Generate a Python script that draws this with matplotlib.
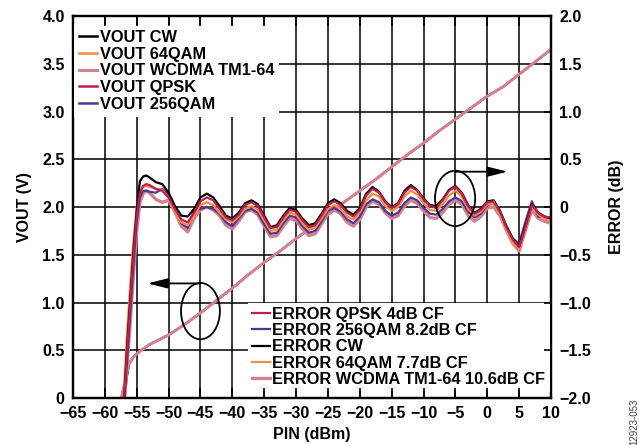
import numpy as np
import matplotlib as mpl
mpl.use('Agg')
import matplotlib.pyplot as plt
from matplotlib.patches import Ellipse

plt.rcParams['font.family'] = ['Liberation Sans', 'DejaVu Sans']
plt.rcParams['font.weight'] = 'bold'
plt.rcParams['axes.unicode_minus'] = True

# ---- data ----
pin_ticks = [-65, -60, -55, -50, -45, -40, -35, -30, -25, -20, -15, -10, -5, 0, 5, 10]
vout_ticks = [0, 0.5, 1.0, 1.5, 2.0, 2.5, 3.0, 3.5, 4.0]
vout_ticklabels = ['0', '0.5', '1.0', '1.5', '2.0', '2.5', '3.0', '3.5', '4.0']
err_ticks = [-2.0, -1.5, -1.0, -0.5, 0, 0.5, 1.0, 1.5, 2.0]
err_ticklabels = ['\u22122.0', '\u22121.5', '\u22121.0', '\u22120.5', '0', '0.5', '1.0', '1.5', '2.0']

# VOUT transfer curve (all modulations overlap)
vout_x = [-57.4, -57.0, -56.6, -56.2, -55.5, -54.5, -53.0, -51.5, -50.0, -47.5, -45.0,
          -42.5, -40.0, -37.5, -35.0, -32.5, -30.0, -27.5, -25.0, -22.5, -20.0, -17.5,
          -15.0, -12.5, -10.0, -7.5, -5.0, -2.5, 0.0, 2.5, 5.0, 7.5, 10.0]
vout_mod = [0.0, 0.12, 0.25, 0.36, 0.43, 0.49, 0.56, 0.61, 0.66, 0.77, 0.89,
            1.02, 1.15, 1.29, 1.42, 1.54, 1.67, 1.79, 1.92, 2.05, 2.17, 2.29,
            2.42, 2.55, 2.67, 2.80, 2.92, 3.04, 3.16, 3.26, 3.39, 3.52, 3.65]
vout_cw_x = [-56.9, -56.6, -56.2, -55.5, -54.5]
vout_cw = [0.0, 0.2, 0.36, 0.43, 0.49]

# error curves, dB
err_x = [-57.0, -56.5, -56.0, -55.5, -55.0, -54.5, -54.0, -53.5] + list(range(-53, 11))
err_cw = [-2.05, -1.45, -0.95, -0.45, -0.03, 0.27, 0.32, 0.33,
          0.31, 0.26, 0.24, 0.15, 0.01, -0.09, -0.10, -0.02, 0.10, 0.14,
          0.10, 0.01, -0.09, -0.12, -0.06, 0.04, 0.07, 0.03, -0.09, -0.21,
          -0.19, -0.09, -0.01, -0.03, -0.12, -0.19, -0.17, -0.07, 0.04, 0.08,
          0.04, -0.04, -0.08, -0.01, 0.14, 0.21, 0.16, 0.06, 0.00, 0.04,
          0.17, 0.23, 0.18, 0.09, 0.02, 0.01, 0.08, 0.18, 0.22, 0.15,
          0.02, -0.06, -0.02, 0.06, 0.07, -0.04, -0.20, -0.33, -0.41, -0.20,
          0.03, -0.06, -0.10, -0.12]
err_qpsk = [-2.05, -1.5, -1.0, -0.5, -0.1, 0.15, 0.22, 0.24,
            0.23, 0.19, 0.17, 0.10, -0.02, -0.13, -0.16, -0.06, 0.06, 0.10,
            0.07, -0.02, -0.11, -0.14, -0.08, 0.02, 0.05, 0.01, -0.11, -0.22,
            -0.21, -0.11, -0.03, -0.05, -0.14, -0.21, -0.19, -0.09, 0.02, 0.06,
            0.02, -0.06, -0.10, -0.03, 0.12, 0.19, 0.15, 0.05, -0.01, 0.03,
            0.15, 0.21, 0.17, 0.08, 0.01, -0.01, 0.07, 0.17, 0.21, 0.14,
            0.01, -0.07, -0.03, 0.05, 0.06, -0.05, -0.21, -0.34, -0.42, -0.21,
            0.02, -0.06, -0.10, -0.11]
err_64qam = [-1.9, -1.3, -0.8, -0.35, 0.0, 0.16, 0.21, 0.22,
             0.21, 0.19, 0.18, 0.10, -0.04, -0.16, -0.19, -0.09, 0.02, 0.05,
             0.02, -0.06, -0.13, -0.16, -0.10, -0.02, 0.01, -0.03, -0.14, -0.25,
             -0.24, -0.14, -0.06, -0.08, -0.17, -0.24, -0.22, -0.12, -0.02, 0.02,
             -0.02, -0.10, -0.13, -0.06, 0.07, 0.14, 0.11, 0.01, -0.04, 0.00,
             0.11, 0.17, 0.13, 0.04, -0.03, -0.04, 0.03, 0.12, 0.17, 0.11,
             -0.02, -0.09, -0.05, 0.03, 0.04, -0.07, -0.23, -0.37, -0.44, -0.23,
             0.01, -0.08, -0.12, -0.14]
err_256qam = [-2.05, -1.6, -1.1, -0.6, -0.15, 0.10, 0.17, 0.17,
              0.16, 0.15, 0.19, 0.13, 0.00, -0.17, -0.22, -0.04, -0.02, 0.00,
              -0.02, -0.07, -0.16, -0.20, -0.12, -0.04, -0.02, -0.06, -0.18, -0.28,
              -0.27, -0.17, -0.09, -0.11, -0.20, -0.27, -0.25, -0.15, -0.04, -0.01,
              -0.05, -0.13, -0.17, -0.10, 0.03, 0.08, 0.05, -0.04, -0.09, -0.06,
              0.04, 0.10, 0.07, -0.01, -0.07, -0.08, -0.02, 0.06, 0.10, 0.06,
              -0.05, -0.11, -0.07, 0.02, 0.04, -0.06, -0.20, -0.33, -0.38, -0.15,
              0.06, -0.10, -0.10, -0.14]
err_wcdma = [-2.1, -1.65, -1.2, -0.7, -0.25, 0.05, 0.14, 0.17,
             0.15, 0.08, 0.05, 0.07, -0.05, -0.20, -0.26, -0.12, -0.03, 0.00,
             -0.03, -0.09, -0.19, -0.23, -0.15, -0.05, -0.03, -0.08, -0.20, -0.31,
             -0.30, -0.20, -0.12, -0.14, -0.23, -0.30, -0.28, -0.18, -0.07, -0.03,
             -0.07, -0.16, -0.20, -0.13, 0.00, 0.06, 0.03, -0.06, -0.12, -0.09,
             0.01, 0.07, 0.04, -0.04, -0.11, -0.12, -0.06, 0.03, 0.07, 0.03,
             -0.09, -0.15, -0.10, -0.01, 0.00, -0.09, -0.24, -0.38, -0.46, -0.24,
             -0.03, -0.12, -0.15, -0.17]

c_black = '#000000'
c_orange = '#F58B3C'
c_pink = '#D4818F'
c_red = '#BE1E4E'
c_blue = '#4A3897'

fig = plt.figure(figsize=(6.39, 4.45), dpi=100)
ax = fig.add_axes([0.1142, 0.1056, 0.7481, 0.8584])
ax2 = ax.twinx()

# left axis: VOUT
ax.plot(vout_x, vout_mod, color=c_blue, lw=1.6)
ax.plot(vout_x, vout_mod, color=c_red, lw=1.6)
ax.plot(vout_cw_x, vout_cw, color=c_black, lw=1.6)
ax.plot(vout_x, vout_mod, color=c_orange, lw=1.6)
ax.plot(vout_x, vout_mod, color=c_pink, lw=2.0)

ax.set_xlim(-65, 10)
ax.set_ylim(0, 4.0)
ax.set_xticks(pin_ticks)
ax.set_xticklabels([str(t).replace('-', '\u2212') for t in pin_ticks])
ax.set_yticks(vout_ticks)
ax.set_yticklabels(vout_ticklabels)
ax.grid(True, color='black', lw=1.1)
ax.tick_params(axis='both', direction='in', length=0, labelsize=11.5, pad=6)
ax.set_xlabel('PIN (dBm)', fontsize=11.5, fontweight='bold', labelpad=4)
ax.set_ylabel('VOUT (V)', fontsize=11.5, fontweight='bold', labelpad=7)

ax.add_patch(Ellipse((-45, 0.91), 6.1, 0.59, fill=False, edgecolor='black', lw=1.3, zorder=4))
ax.annotate('', xy=(-53.3, 1.20), xytext=(-45, 1.20),
            arrowprops=dict(arrowstyle='-|>,head_length=1.2,head_width=0.3',
                            color='black', lw=1.3, mutation_scale=10, shrinkA=0, shrinkB=0))

# right axis: ERROR
l_wc, = ax2.plot(err_x, err_wcdma, color=c_pink, lw=2.4)
l_256, = ax2.plot(err_x, err_256qam, color=c_blue, lw=1.6)
l_64, = ax2.plot(err_x, err_64qam, color=c_orange, lw=1.6)
l_cw, = ax2.plot(err_x, err_cw, color=c_black, lw=1.6)
l_qp, = ax2.plot(err_x, err_qpsk, color=c_red, lw=1.6)

ax2.set_ylim(-2.0, 2.0)
ax2.set_yticks(err_ticks)
ax2.set_yticklabels(err_ticklabels)
ax2.set_ylabel('ERROR (dB)', fontsize=11.5, fontweight='bold', labelpad=13)
ax2.xaxis.set_visible(True)
ax2.tick_params(axis='x', which='both', direction='in', length=7, width=1.2,
                top=True, bottom=True, labelbottom=False, labeltop=False)
ax2.tick_params(axis='y', direction='in', length=5, width=1.2, labelsize=11.5, pad=6)
ax2.xaxis.set_zorder(6)
ax2.yaxis.set_zorder(6)
for sp in ax2.spines.values():
    sp.set_linewidth(1.6)
for sp in ax.spines.values():
    sp.set_linewidth(1.6)

ax2.add_patch(Ellipse((-5.05, 0.09), 6.3, 0.58, fill=False, edgecolor='black', lw=1.3, zorder=4))
ax2.annotate('', xy=(3.2, 0.37), xytext=(-5.05, 0.37),
             arrowprops=dict(arrowstyle='-|>,head_length=1.2,head_width=0.3',
                             color='black', lw=1.3, mutation_scale=10, shrinkA=0, shrinkB=0))

# legends
vh = [plt.Line2D([], [], color=c_black, lw=1.8),
      plt.Line2D([], [], color=c_orange, lw=1.8),
      plt.Line2D([], [], color=c_pink, lw=2.2),
      plt.Line2D([], [], color=c_red, lw=1.8),
      plt.Line2D([], [], color=c_blue, lw=1.8)]
leg1 = ax2.legend(vh, ['VOUT CW', 'VOUT 64QAM', 'VOUT WCDMA TM1-64', 'VOUT QPSK', 'VOUT 256QAM'],
                  loc='upper left', bbox_to_anchor=(0.003, 0.976), fontsize=11.8,
                  frameon=True, facecolor='white', edgecolor='none', framealpha=1,
                  fancybox=False, borderpad=0.3, borderaxespad=0, labelspacing=0.1,
                  handlelength=1.1, handletextpad=0.15)
ax2.add_artist(leg1)
ax2.legend([l_qp, l_256, l_cw, l_64, l_wc],
           ['ERROR QPSK 4dB CF', 'ERROR 256QAM 8.2dB CF', 'ERROR CW',
            'ERROR 64QAM 7.7dB CF', 'ERROR WCDMA TM1-64 10.6dB CF'],
           loc='lower right', bbox_to_anchor=(0.997, 0.018), fontsize=11.8,
           frameon=True, facecolor='white', edgecolor='none', framealpha=1,
           fancybox=False, borderpad=0.25, borderaxespad=0, labelspacing=0.08,
           handlelength=1.1, handletextpad=0.15)

fig.text(0.993, 0.0, '12923-053', rotation=90, ha='center', va='bottom',
         fontsize=7, fontweight='normal', color='#444444')

fig.savefig('out.png', dpi=100)
